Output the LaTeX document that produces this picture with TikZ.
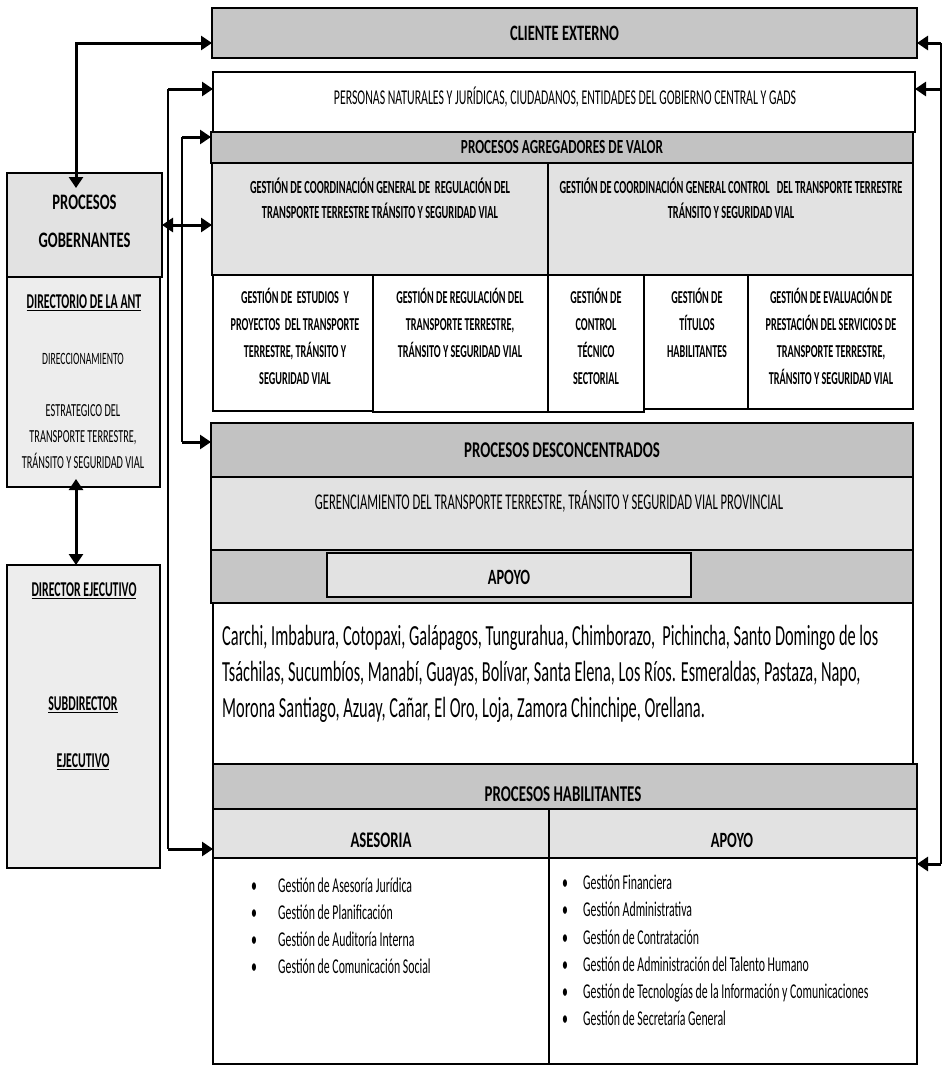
\documentclass[tikz,border=0pt]{standalone}
\usepackage{fontspec}
\setmainfont{Carlito}[FakeStretch=0.56]
\newfontfamily\hfont{Carlito}[FakeStretch=0.66]
\usetikzlibrary{arrows.meta,calc}
\definecolor{gA}{HTML}{C6C6C6}
\definecolor{gD}{HTML}{C2C2C2}
\definecolor{gL}{HTML}{E2E2E2}
\definecolor{gP}{HTML}{EDEDED}
\newcommand{\fs}[2]{\fontsize{#1}{#2}\selectfont}
\newcommand{\mlines}[5]{\foreach \lne [count=\i] in {#5} {\node[inner sep=0pt, anchor=base, font=#4] at (#1, {#2+#3*(\i-1)}) {\lne};}}
\begin{document}
\begin{tikzpicture}[x=1pt,y=-1pt,
  box/.style={draw=black, line width=1.6pt, inner sep=0pt, outer sep=0pt, anchor=north west},
  arr/.style={line width=3pt, -{Triangle[length=11pt,width=14pt]}},
  arrb/.style={line width=3pt, {Triangle[length=11pt,width=14pt]}-{Triangle[length=11pt,width=14pt]}},
  vthin/.style={line width=1.1pt},
  vmid/.style={line width=1.8pt},
  hb/.style={font=\hfont\bfseries\fs{#1}{24}},
]
\path[fill=white] (0,0) rectangle (947,1074);
\useasboundingbox (0,0) rectangle (947,1074);

% ---------- right column boxes ----------
\node[box,fill=gA,minimum width=705,minimum height=50,hb=22] (cli) at (212,8) {CLIENTE EXTERNO};
\node[box,fill=white,minimum width=702,minimum height=60] (pers) at (213,72) {};
\node[box,fill=gD,minimum width=702,minimum height=31,hb=20] (agr) at (211,132) {PROCESOS AGREGADORES DE VALOR};
\node[box,fill=gL,minimum width=336,minimum height=112] (co1) at (212,163) {};
\node[box,fill=gL,minimum width=365,minimum height=112] (co2) at (548,163) {};
\node[box,fill=white,minimum width=160,minimum height=136] (s1) at (213,275) {};
\node[box,fill=white,minimum width=175,minimum height=137] (s2) at (373,275) {};
\node[box,fill=white,minimum width=96,minimum height=137] (s3) at (548,275) {};
\node[box,fill=white,minimum width=104,minimum height=134] (s4) at (644,275) {};
\node[box,fill=white,minimum width=165,minimum height=134] (s5) at (748,275) {};

\node[box,fill=gD,minimum width=702,minimum height=54,hb=22.5] (des) at (211,423) {PROCESOS DESCONCENTRADOS};
\node[box,fill=gL,minimum width=702,minimum height=73] (ger) at (211,477) {};
\node[box,fill=gA,minimum width=702,minimum height=53] (band) at (211,550) {};
\node[box,fill=gL,minimum width=364,minimum height=44] (apo1) at (327,553) {};
\node[box,fill=white,minimum width=700,minimum height=161] (prov) at (213,603) {};
\node[box,fill=gA,minimum width=704,minimum height=45] (hab) at (213,764) {};
\node[box,fill=gL,minimum width=336,minimum height=49] (ases) at (213,809) {};
\node[box,fill=gL,minimum width=368,minimum height=49] (apoh) at (549,809) {};
\node[box,fill=white,minimum width=336,minimum height=206] (lasm) at (213,858) {};
\node[box,fill=white,minimum width=368,minimum height=206] (lapo) at (549,858) {};

% ---------- left column boxes ----------
\node[box,fill=gL,minimum width=155,minimum height=104] (gob) at (7,173) {};
\node[box,fill=gP,minimum width=153,minimum height=210] (dir) at (7,277) {};
\node[box,fill=gP,minimum width=153,minimum height=303] (dej) at (7,565) {};

% ---------- texts ----------
\node[inner sep=0pt, anchor=base, font=\fs{21.1}{24}] (tpers) at (565,104.7) {PERSONAS NATURALES Y JURÍDICAS, CIUDADANOS, ENTIDADES DEL GOBIERNO CENTRAL Y GADS};
\mlines{380}{193.9}{25}{\bfseries\fs{18.5}{20}}{{GESTIÓN DE COORDINACIÓN GENERAL DE\ \ REGULACIÓN DEL},{TRANSPORTE TERRESTRE TRÁNSITO Y SEGURIDAD VIAL}}
\mlines{731}{193.9}{25}{\bfseries\fs{18.5}{20}}{{GESTIÓN DE COORDINACIÓN GENERAL CONTROL\ \ \ DEL TRANSPORTE TERRESTRE},{TRÁNSITO Y SEGURIDAD VIAL}}
\mlines{295}{303.8}{26.8}{\bfseries\fs{18.2}{20}}{{GESTIÓN DE\ \ ESTUDIOS\ \ Y},{PROYECTOS\ \ DEL TRANSPORTE},{TERRESTRE, TRÁNSITO Y},{SEGURIDAD VIAL}}
\mlines{460}{303.8}{26.8}{\bfseries\fs{18.2}{20}}{{GESTIÓN DE REGULACIÓN DEL},{TRANSPORTE TERRESTRE,},{TRÁNSITO Y SEGURIDAD VIAL}}
\mlines{596}{303.8}{26.8}{\bfseries\fs{18.2}{20}}{{GESTIÓN DE},{CONTROL},{TÉCNICO},{SECTORIAL}}
\mlines{697}{303.8}{26.8}{\bfseries\fs{18.2}{20}}{{GESTIÓN DE},{TÍTULOS},{HABILITANTES}}
\mlines{831}{303.8}{26.8}{\bfseries\fs{18.2}{20}}{{GESTIÓN DE EVALUACIÓN DE},{PRESTACIÓN DEL SERVICIOS DE},{TRANSPORTE TERRESTRE,},{TRÁNSITO Y SEGURIDAD VIAL}}

\node[inner sep=0pt, anchor=base, font=\fs{22.5}{24}] (tger) at (549,509.8) {GERENCIAMIENTO DEL TRANSPORTE TERRESTRE, TRÁNSITO Y SEGURIDAD VIAL PROVINCIAL};
\node[inner sep=0pt, anchor=base, font=\hfont\bfseries\fs{21.8}{24}] (tapo1) at (509,584.9) {APOYO};
\foreach \lne [count=\i] in {{Carchi, Imbabura, Cotopaxi, Galápagos, Tungurahua, Chimborazo, \ Pichincha, Santo Domingo de los},{Tsáchilas, Sucumbíos, Manabí, Guayas, Bolívar, Santa Elena, Los Ríos. Esmeraldas, Pastaza, Napo,},{Morona Santiago, Azuay, Cañar, El Oro, Loja, Zamora Chinchipe, Orellana.}}
  {\node[inner sep=0pt, anchor=base west, font=\fs{29.2}{32}] (prov\i) at (222,{645+36*(\i-1)}) {\lne};}

\node[inner sep=0pt, anchor=base, font=\hfont\bfseries\fs{22.6}{24}] (thab) at (563,801.1) {PROCESOS HABILITANTES};
\node[inner sep=0pt, anchor=base, font=\hfont\bfseries\fs{22.3}{24}] (tases) at (381,847) {ASESORIA};
\node[inner sep=0pt, anchor=base, font=\hfont\bfseries\fs{21.8}{24}] (tapoh) at (732,847) {APOYO};

\foreach \lne [count=\i] in {{Gestión de Asesoría Jurídica},{Gestión de Planificación},{Gestión de Auditoría Interna},{Gestión de Comunicación Social}}
  {\node[inner sep=0pt, anchor=base, font=\fs{21.1}{24}] (ba\i) at (254,{892.7+27*(\i-1)}) {•};
   \node[inner sep=0pt, anchor=base west, font=\fs{21.1}{24}] (la\i) at (278,{892.7+27*(\i-1)}) {\lne};}
\foreach \lne [count=\i] in {{Gestión Financiera},{Gestión Administrativa},{Gestión de Contratación},{Gestión de Administración del Talento Humano},{Gestión de Tecnologías de la Información y Comunicaciones},{Gestión de Secretaría General}}
  {\node[inner sep=0pt, anchor=base, font=\fs{21.1}{24}] (bp\i) at (565,{889.7+27.2*(\i-1)}) {•};
   \node[inner sep=0pt, anchor=base west, font=\fs{21.1}{24}] (lp\i) at (583,{889.7+27.2*(\i-1)}) {\lne};}

% left column texts
\mlines{84.5}{209}{38}{\hfont\bfseries\fs{22.1}{24}}{{PROCESOS},{GOBERNANTES}}
\node[inner sep=0pt, anchor=base, font=\bfseries\fs{21.1}{24}] (tdir) at (84,308.7) {\underline{DIRECTORIO DE LA ANT}};
\node[inner sep=0pt, anchor=base, font=\fs{17.25}{20}] (tdir2) at (83,364.5) {DIRECCIONAMIENTO};
\mlines{83}{416.8}{25.7}{\fs{18.4}{20}}{{ESTRATEGICO DEL},{TRANSPORTE TERRESTRE,},{TRÁNSITO Y SEGURIDAD VIAL}}
\node[inner sep=0pt, anchor=base, font=\bfseries\fs{21.1}{24}] (tdej) at (84,596.7) {\underline{DIRECTOR EJECUTIVO}};
\node[inner sep=0pt, anchor=base, font=\bfseries\fs{21.1}{24}] (tsub) at (83,710.7) {\underline{SUBDIRECTOR}};
\node[inner sep=0pt, anchor=base, font=\bfseries\fs{21.1}{24}] (teje) at (83,767.7) {\underline{EJECUTIVO}};

% ---------- connectors ----------
\draw[arrb] ($(gob.north west)+(69,15)$) |- ($(cli.south west)+(0,-15)$);
\draw[arrb] (gob.east) -- (co1.west |- gob.east);
\draw[arrb] ($(dir.south west)+(69,-8)$) -- ($(dej.north west)+(69,0)$);

\coordinate (la) at (168,89);
\coordinate (lb) at (168,849);
\draw[vthin] (la) -- (lb);
\draw[arr] (la) -- (pers.west |- la);
\draw[arr] (lb) -- (ases.west |- lb);

\coordinate (lc) at (182,137);
\coordinate (ld) at (182,442);
\draw[vthin] (lc) -- (ld);
\draw[arr] (lc) -- (agr.west |- lc);
\draw[arr] (ld) -- (des.west |- ld);

\coordinate (rt) at (941,43);
\coordinate (rp) at (941,89);
\coordinate (rb) at (941,864);
\draw[vmid] (rt) -- (rb);
\draw[arr] (rt) -- (cli.east |- rt);
\draw[arr] (rp) -- (pers.east |- rp);
\draw[arr] (rb) -- (lapo.east |- rb);
\end{tikzpicture}
\end{document}
